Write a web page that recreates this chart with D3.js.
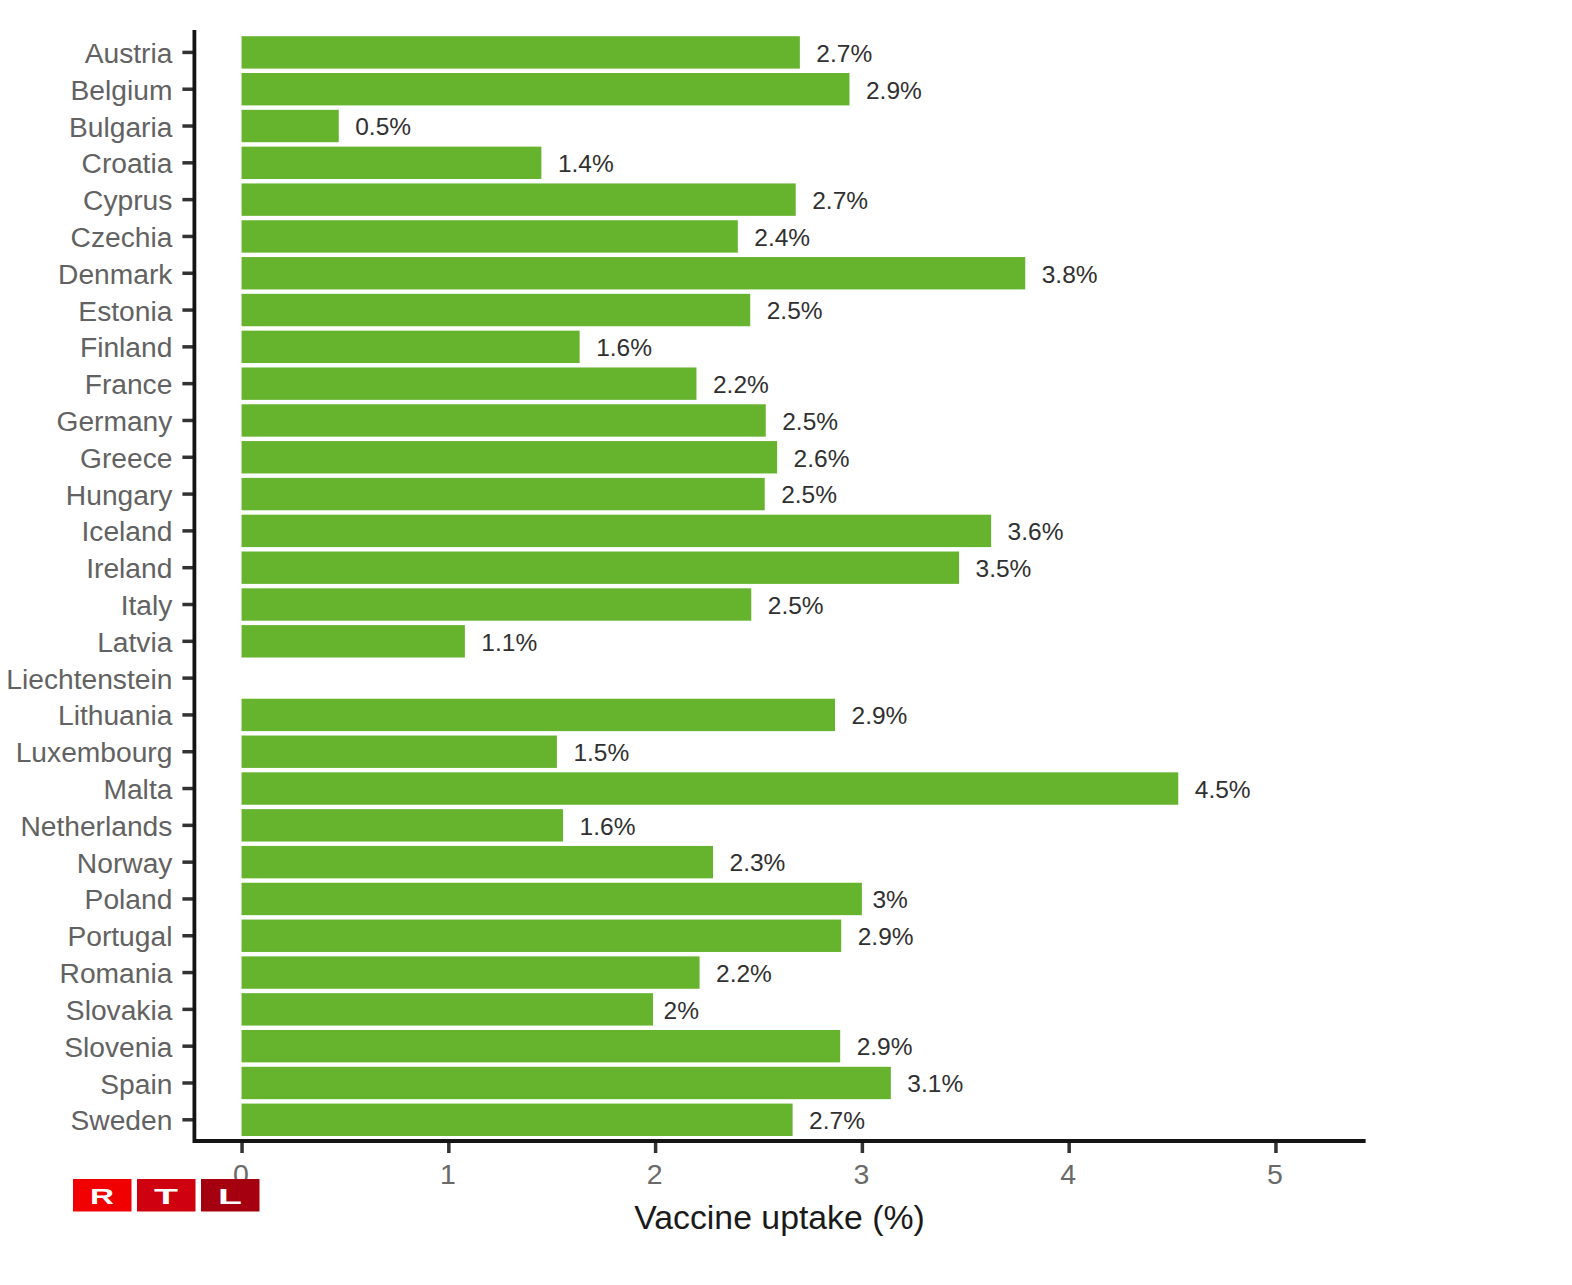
<!DOCTYPE html>
<html>
<head>
<meta charset="utf-8">
<script src="https://cdn.jsdelivr.net/npm/d3@7"></script>
<style>
  html, body { margin: 0; padding: 0; background: #fff; }
  svg { display: block; font-family: "Liberation Sans", Arial, sans-serif; }
</style>
</head>
<body>
<div id="chart"></div>
<script>
// Values
const countries = ['Austria', 'Belgium', 'Bulgaria', 'Croatia', 'Cyprus', 'Czechia', 'Denmark', 'Estonia',
    'Finland', 'France', 'Germany', 'Greece', 'Hungary', 'Iceland', 'Ireland', 'Italy', 'Latvia',
    'Liechtenstein', 'Lithuania', 'Luxembourg', 'Malta', 'Netherlands', 'Norway', 'Poland', 'Portugal',
    'Romania', 'Slovakia', 'Slovenia', 'Spain', 'Sweden'];
const uptake = [2.70, 2.94, 0.47, 1.45, 2.68, 2.40, 3.79, 2.46,
    1.635, 2.20, 2.535, 2.59, 2.53, 3.625, 3.47, 2.465, 1.08,
    null, 2.87, 1.525, 4.53, 1.555, 2.28, 3.00, 2.90,
    2.215, 1.99, 2.895, 3.14, 2.665];
const uptakeLabels = ['2.7%', '2.9%', '0.5%', '1.4%', '2.7%', '2.4%', '3.8%', '2.5%',
    '1.6%', '2.2%', '2.5%', '2.6%', '2.5%', '3.6%', '3.5%', '2.5%', '1.1%',
    '', '2.9%', '1.5%', '4.5%', '1.6%', '2.3%', '3%', '2.9%',
    '2.2%', '2%', '2.9%', '3.1%', '2.7%'];
const xTicks = [0, 1, 2, 3, 4, 5];
const logoLetters = ['R', 'T', 'L'];
const logoColors = ['#f00000', '#cf0010', '#a5000f'];

const width = 1572, height = 1285;
const svg = d3.select('#chart').append('svg')
    .attr('width', width)
    .attr('height', height);

const x = d3.scaleLinear().domain([-0.228, 5.436]).range([194.4, 1365.6]);
const y = d3.scaleBand().domain(countries).range([31.8, 1140.4]).padding(0.12);
const axisY = 1141;

// Bars
const rows = countries.map((c, i) => ({ country: c, value: uptake[i], label: uptakeLabels[i] }))
    .filter(d => d.value !== null);

svg.append('g')
    .selectAll('rect')
    .data(rows)
    .enter().append('rect')
    .attr('x', x(0))
    .attr('y', d => y(d.country))
    .attr('width', d => x(d.value) - x(0))
    .attr('height', y.bandwidth())
    .attr('fill', '#66b32e');

// Value labels
svg.append('g')
    .selectAll('text')
    .data(rows)
    .enter().append('text')
    .attr('x', d => x(d.value) + (d.label.length > 2 ? 16.5 : 10.5))
    .attr('y', d => y(d.country) + y.bandwidth() / 2 + 0.5)
    .attr('dy', '0.36em')
    .attr('font-size', 24.5)
    .attr('fill', '#303030')
    .text(d => d.label);

// Axes
const yAxis = svg.append('g')
    .attr('transform', 'translate(194.4,0)')
    .call(d3.axisLeft(y).tickSize(12).tickPadding(10));
yAxis.select('.domain').remove();
yAxis.selectAll('.tick line').attr('stroke', '#333').attr('stroke-width', 3.5);
yAxis.selectAll('.tick text')
    .attr('font-family', '"Liberation Sans", Arial, sans-serif')
    .attr('font-size', 28.2)
    .attr('y', 1.5)
    .attr('fill', '#626262');

const xAxis = svg.append('g')
    .attr('transform', `translate(0,${axisY})`)
    .call(d3.axisBottom(x).tickValues(xTicks).tickFormat(d3.format('d')).tickSize(12).tickPadding(11).tickSizeOuter(0));
xAxis.select('.domain').remove();
xAxis.selectAll('.tick line').attr('stroke', '#333').attr('stroke-width', 3.5);
xAxis.selectAll('.tick text')
    .attr('font-family', '"Liberation Sans", Arial, sans-serif')
    .attr('font-size', 28.5)
    .attr('x', -1)
    .attr('fill', '#6a6a6a');

// Axis lines, drawn after the ticks so they sit on top
svg.append('path')
    .attr('d', `M194.4,30V${axisY}H1365.6`)
    .attr('fill', 'none')
    .attr('stroke', '#141414')
    .attr('stroke-width', 3.8);

svg.append('text')
    .attr('x', 779.5)
    .attr('y', 1229)
    .attr('text-anchor', 'middle')
    .attr('font-size', 33.8)
    .attr('fill', '#1a1a1a')
    .text('Vaccine uptake (%)');

// RTL logo, sits over the top of the "0" tick label
const logo = svg.append('g').selectAll('g')
    .data(logoLetters)
    .enter().append('g')
    .attr('transform', (d, i) => `translate(${73 + i * 64},1179)`);
logo.append('rect')
    .attr('width', 58.5)
    .attr('height', 32.5)
    .attr('fill', (d, i) => logoColors[i]);
logo.append('text')
    .attr('x', 29)
    .attr('y', 25)
    .attr('text-anchor', 'middle')
    .attr('font-size', 22)
    .attr('font-weight', 'bold')
    .attr('fill', '#fff')
    .attr('textLength', 24)
    .attr('lengthAdjust', 'spacingAndGlyphs')
    .text(d => d);
</script>
</body>
</html>
